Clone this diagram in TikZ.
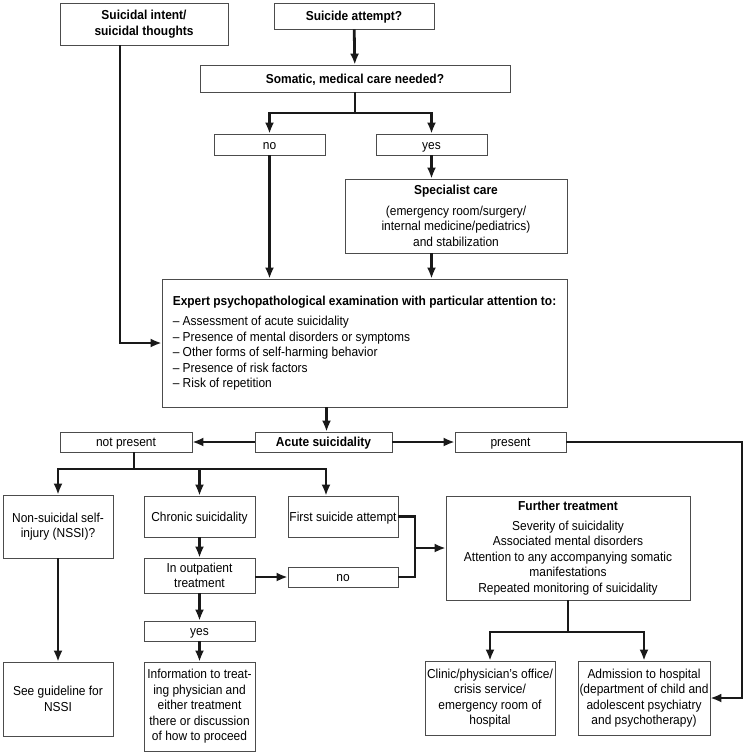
\documentclass[tikz,border=0pt]{standalone}
\usepackage{fontspec}
\setmainfont[FakeStretch=0.92]{Liberation Sans}
\usetikzlibrary{arrows.meta}
\tikzset{
	box/.style={draw=black!70, line width=0.7pt, fill=white, inner xsep=1pt, inner ysep=1pt, align=center, font=\fontsize{13}{15.5}\selectfont},
	head/.style={box, font=\fontsize{13}{15.5}\selectfont\bfseries},
	oneline/.style={text height=9.4pt, text depth=0pt},
	link/.style={draw=black!90, line width=2.8pt},
	flow/.style={link, -{Latex[length=11pt,width=9pt]}}
}

\begin{document}
\begin{tikzpicture}[x=1pt, y=-1pt]
	\useasboundingbox (0,0) rectangle (746,755);

	% --- Top: entry points ---
	\node[head, minimum width=168pt, minimum height=42pt] (intent) at (144,24) {Suicidal intent/\\suicidal thoughts};
	\node[head, oneline, minimum width=160pt, minimum height=26pt] (attempt) at (354,16) {Suicide attempt?};
	\node[head, oneline, minimum width=310pt, minimum height=27pt] (somatic) at (355,78.5) {Somatic, medical care needed?};
	\node[box, oneline, minimum width=111pt, minimum height=21pt] (no1) at (269.5,144.5) {no};
	\node[box, oneline, minimum width=111pt, minimum height=21pt] (yes1) at (431.5,144.5) {yes};
	\node[box, minimum width=222pt, minimum height=74pt] (special) at (456,216)
		{\textbf{Specialist care}\\[5pt](emergency room/surgery/\\internal medicine/pediatrics)\\and stabilization};

	% --- Examination ---
	\node[box, align=left, minimum width=405pt, minimum height=128pt] (exam) at (364.5,343)
		{\textbf{Expert psychopathological examination with particular attention to:}\\[5pt]
		 -- Assessment of acute suicidality\\
		 -- Presence of mental disorders or symptoms\\
		 -- Other forms of self-harming behavior\\
		 -- Presence of risk factors\\
		 -- Risk of repetition};

	\node[head, oneline, minimum width=137pt, minimum height=20pt] (acute) at (323.5,442) {Acute suicidality};
	\node[box, oneline, minimum width=132pt, minimum height=20pt] (notpres) at (126,442) {not present};
	\node[box, oneline, minimum width=111pt, minimum height=20pt] (present) at (510.5,442) {present};

	% --- Not present branch ---
	\node[box, minimum width=110pt, minimum height=63pt] (nssi) at (58,526.5) {Non-suicidal self-\\injury (NSSI)?};
	\node[box, oneline, minimum width=111pt, minimum height=41pt] (chronic) at (199.5,516.5) {Chronic suicidality};
	\node[box, oneline, minimum width=110pt, minimum height=41pt] (first) at (343,516.5) {First suicide attempt};
	\node[box, minimum width=111pt, minimum height=35pt] (outpat) at (199.5,575.5) {In outpatient\\treatment};
	\node[box, oneline, minimum width=110pt, minimum height=20pt] (no2) at (343,577) {no};
	\node[box, oneline, minimum width=111pt, minimum height=20pt] (yes2) at (199.5,631) {yes};
	\node[box, minimum width=111pt, minimum height=89pt] (info) at (199.5,706.5)
		{Information to treat-\\ing physician and\\either treatment\\there or discussion\\of how to proceed};
	\node[box, minimum width=110pt, minimum height=74pt] (guide) at (58,699) {See guideline for\\NSSI};

	% --- Further treatment ---
	\node[box, minimum width=244pt, minimum height=104pt] (further) at (568,548)
		{\textbf{Further treatment}\\[4pt]Severity of suicidality\\Associated mental disorders\\Attention to any accompanying somatic\\manifestations\\Repeated monitoring of suicidality};
	\node[box, inner xsep=0pt, minimum width=130pt, minimum height=74pt] (clinic) at (490,698)
		{Clinic/physician’s office/\\crisis service/\\emergency room of\\hospital};
	\node[box, inner xsep=0pt, minimum width=132pt, minimum height=74pt] (admit) at (644,698)
		{Admission to hospital\\(department of child and\\adolescent psychiatry\\and psychotherapy)};

	% --- Junctions ---
	\coordinate (sj) at (355,113);
	\coordinate (nj) at (134,469);
	\coordinate (fj) at (415,548);
	\coordinate (tj) at (568,632);
	\coordinate (rj) at (742,698);

	% --- Connectors ---
	\draw[flow] (attempt) -- (somatic);
	\draw[link] (somatic.south) -- (sj);
	\draw[flow] (sj) -| (no1.north);
	\draw[flow] (sj) -| (yes1.north);
	\draw[flow] (yes1.south) -- (yes1.south |- special.north);
	\draw[flow] (no1.south) -- (no1.south |- exam.north);
	\draw[flow] (yes1.south |- special.south) -- (yes1.south |- exam.north);
	\draw[flow] ([xshift=-24pt]intent.south) |- (exam.west);
	\draw[flow] ([xshift=3pt]acute.north |- exam.south) -- ([xshift=3pt]acute.north);
	\draw[flow] (acute) -- (notpres);
	\draw[flow] (acute) -- (present);
	\draw[flow] (present.east) -| (rj) -- (admit.east);

	\draw[link] ([xshift=8pt]notpres.south) -- (nj);
	\draw[flow] (nj) -| (nssi.north);
	\draw[flow] (nj) -| (chronic.north);
	\draw[flow] (nj) -| ([xshift=-17pt]first.north);
	\draw[flow] (chronic) -- (outpat);
	\draw[flow] (no2.west -| outpat.east) -- (no2.west);
	\draw[flow] (outpat) -- (yes2);
	\draw[flow] (yes2) -- (info);
	\draw[flow] (nssi) -- (guide);

	\draw[link] (first.east) -| (fj) |- (no2.east);
	\draw[flow] (fj) -- (further.west);
	\draw[link] (further.south) -- (tj);
	\draw[flow] (tj) -| (clinic.north);
	\draw[flow] (tj) -| (admit.north);
\end{tikzpicture}
\end{document}
